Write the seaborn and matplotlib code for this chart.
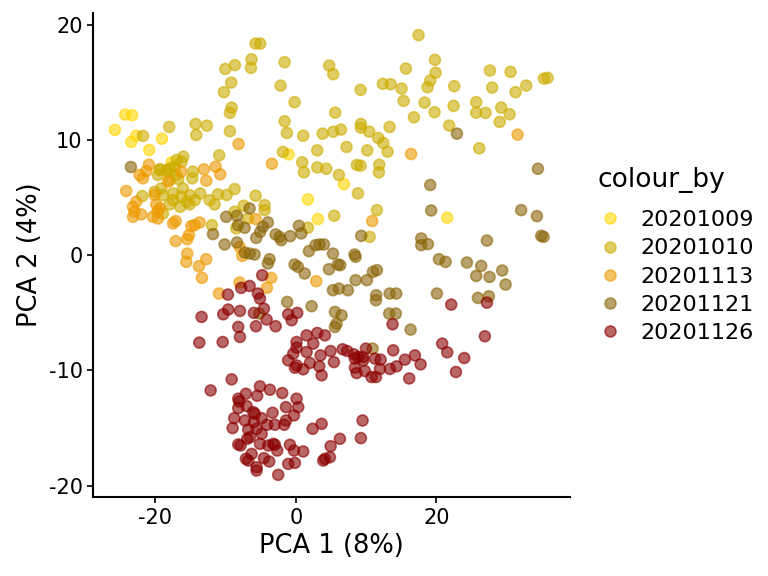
import matplotlib
matplotlib.use("Agg")

import numpy as np
import pandas as pd
import seaborn as sns
import matplotlib.pyplot as plt

# PCA scores, one pair of lists per sampling date
x_1009 = [-24.3, -23.3, -25.77, -22.73, -23.44, -19.07, -20.88, -1.04, 6.83, 1.71, 3.13, 21.54, -17.69]
y_1009 = [12.2, 12.15, 10.87, 10.37, 9.83, 10.11, 9.13, 8.75, 6.17, 4.84, 3.13, 3.25, 8.06]

x_1010 = [-5.74, -5.08, -6.33, -6.4, -1.61, 4.74, 5.31, 15.66, -2.18, 9.21, 12.38, 13.48, 15.04, 15.33,
          -0.19, 5.59, -1.61, 16.8, -1.28, 1.04, 3.8, 5.31, 6.41, 9.25, 9.25, 10.43, 11.72, 12.43, 13.34,
          13.05, 10.15, 7.21, 3.04, -1.85, 0.9, 3.04, 4.32, 8.68, 9.21, 11.86,
          17.46, 19.79, 19.88, 19.12, 18.74, 27.62, 30.56, 22.54, 27.94, 32.79, 31.27, 35.3, 35.83, 18.32,
          19.74, 22.45, 25.67, 25.67, 27.0, 29.22, 30.42, 29.0, 21.82, 26.1,
          -10.06, -8.68, -9.21, -10.25, -9.15, -9.4, -9.4, -21.78, -18.04, -14.28, -12.67, -14.19, -10.92,
          -19.4, -19.64, -18.22, -17.98, -17.04, -14.66, -14.76, -21.88, -20.11, -19.17, -18.93, -17.5,
          -16.09, -16.33, -15.13, -13.62, -12.29, -11.1, -11.57, -8.73, -7.44, -17.98, -16.47, -15.13,
          -18.93, -11.96, -8.73, -6.83, -8.5,
          1.14, 6.12, 11.81, 8.83, -5.74, -4.46, -4.46, 11.53, 5.45, 1.71, 10.49,
          -16.04, -16.27, -16.98, -17.22, -19.36, -18.4, -17.94, -16.75, -9.86, -17.46, -15.56, -14.38]
y_1010 = [18.37, 18.37, 17.0, 16.26, 16.75, 16.46, 15.71, 16.2, 14.72, 14.35, 14.87, 14.84, 14.46, 13.39,
          13.28, 12.37, 11.62, 11.97, 10.61, 10.37, 10.55, 10.72, 10.9, 11.39, 11.07, 10.72, 10.17, 9.74, 11.13,
          8.98, 9.1, 9.39, 9.1, 8.96, 8.06, 7.62, 7.5, 7.83, 7.77, 7.85,
          19.1, 16.96, 15.83, 15.16, 14.58, 16.03, 15.91, 14.67, 14.55, 14.72, 14.15, 15.33, 15.39, 13.24,
          12.41, 12.96, 13.28, 12.37, 12.35, 12.81, 12.23, 11.57, 11.25, 9.27,
          16.17, 16.5, 14.98, 14.15, 12.81, 12.35, 10.76, 10.35, 11.13, 11.39, 11.24, 10.43, 8.67,
          7.39, 6.96, 7.25, 6.52, 6.96, 7.25, 6.67, 5.13, 5.5, 5.8, 5.22, 5.36,
          5.8, 5.07, 5.22, 5.36, 4.78, 5.28, 4.41, 5.74, 4.29, 4.41, 4.2, 4.41,
          3.62, 2.61, 3.77, 3.19, 2.32,
          7.19, 6.96, 7.19, 5.36, 5.16, 4.35, 3.91, 3.91, 3.42, 2.38, 1.59,
          8.55, 8.11, 8.26, 7.68, 7.48, 7.39, 7.54, 6.61, 5.22, 4.78, 4.64, 4.78]

x_1113 = [-8.16, -20.93, -3.42, 16.4, 31.56,
          -22.25, -21.78, -21.3, -16.33, -13.1, -12.77, -11.43, -10.78, -24.16, -20.11, -22.73, -23.2,
          -22.96, -23.2, -22.02, -19.88, -19.4, -20.36, -19.64, -17.12, -17.5, -14.9, -13.71, -14.42,
          -15.23, -15.47, -17.12, -15.47, -15.61, -12.77, -13.81, -13.38, -8.02, -7.64, -8.02, -10.96,
          10.86, -5.74, 2.89, -3.52, -4.13, -18.18, -19.7]
y_1113 = [9.65, 7.85, 7.94, 8.78, 10.46,
          6.96, 6.67, 7.3, 7.25, 7.45, 6.46, 7.68, 7.02, 5.57, 5.22, 4.64, 4.2,
          3.77, 3.33, 3.54, 4.41, 4.06, 3.33, 3.19, 2.96, 2.76, 2.52, 2.84, 2.61,
          1.74, 1.39, 1.22, 0.14, -0.58, -0.35, -0.96, -1.97, 0.72, -0.06, -2.38, -3.33,
          2.96, 3.13, -2.26, -1.97, -2.84, 6.38, 3.8]

x_1121 = [-23.49, 22.92, 34.45,
          -11.81, -6.59, -9.92, -8.4, -8.26, -7.3, -10.15, -8.4, -7.3, -6.59,
          9.3, -3.99, -4.7, -5.08, -5.65, -2.89, -2.32, -2.09, -0.81, 0.43, 0.76, 2.8, 3.37, 3.99, 1.85,
          5.27, 8.35, 8.5, -5.88, -3.75, -3.99, -0.19, 0.28, 1.24, 4.7, 5.98, 6.31, 8.5, 10.11, 10.96,
          11.53, 5.27, 6.12, 7.4, 11.43, 13.34, 14.28,
          19.12, 19.26, 32.07, 34.31, 34.92, 35.26, 17.84, 17.84, 18.79, 27.19, 20.36, 21.31, 24.34,
          26.38, 25.67, 27.57, 29.37, 29.85, 20.07, 25.91, 27.47,
          -5.22, -1.24, 2.23, 5.55, 5.79, 5.55, 11.39, 6.5, 13.28, 14.23, 16.33, 10.91]
y_1121 = [7.65, 10.55, 7.5,
          1.83, 4.06, 3.33, 3.42, 2.61, 2.38, 0.93, 1.1, 0.23, 0.14,
          1.68, 2.84, 2.46, 2.03, 1.5, 1.8, 1.59, 1.3, 1.65, 2.55, 1.89, 0.87, 0.93, 0.93, 0.35,
          0.14, 0.06, -0.14, 0.06, -0.35, -0.72, -0.81, -1.01, -1.59, -1.22, -0.81, -0.87, -2.17, -2.17, -1.45,
          -1.3, -3.04, -2.9, -3.04, -3.48, -3.33, -3.33,
          6.09, 3.88, 3.91, 3.39, 1.68, 1.59, 1.45, 0.87, 0.96, 1.27, -0.35, -0.58, -0.64,
          -0.93, -1.8, -1.89, -1.33, -2.55, -3.33, -3.71, -3.57,
          -5.07, -4.06, -4.43, -4.93, -5.94, -6.23, -3.91, -5.22, -5.07, -5.07, -6.46, -8.11]

x_1126 = [-7.79, -6.59, -9.68, -4.8, -5.41, 22.11, 27.19,
          -5.12, -13.43, -10.35, -9.64, -7.97, -5.98, -4.56, -4.17, -2.89, -5.69, -8.21, -7.97, -1.1, 0.19,
          -0.61, -13.76, -10.43, 1.52, 3.04, 4.13, 2.47, 0.09, 0.09, -0.38, 1.52, 3.51, 4.94, -1.1, 0.09,
          -0.14, 1.04, 1.99, 3.32, 3.66, 5.41, -9.15, -12.14, -5.12, -3.7, -1.95, -7.12, -5.51, -8.21, 0.09,
          13.76, 26.9, 6.65, 7.3, 8.26, 8.87, 9.58, 9.96, 9.58, 8.4, 11.25, 12.06, 8.4, 8.64, 9.82, 10.77,
          11.39, 11.96, 13.38, 14.33, 15.52, 16.94, 17.75, 13.85, 16.13, 20.83, 21.54, 23.96, 22.78,
          -8.07, 0.33, -8.21, -7.02, -6.08, -5.84, -3.32, -1.42, -0.28, -8.78, -7.26, -4.88, -5.98, -4.09,
          -2.99, -1.67, -1.42, -9.01, -6.79, -5.6, -4.88, -6.55, -6.93, 2.38, 3.66, 6.26, 9.49, 9.25, -8.21,
          -7.87, -5.12, -3.94, -3.23, -2.99, -2.66, -0.85, -0.28, 1.04, 4.94, -6.31, -7.12, -6.79, -4.56,
          -3.8, -5.6, -5.6, -2.52, -1.1, -0.14, 3.89, 4.13, 4.84]
y_1126 = [-2.84, -2.67, -3.42, -1.74, -3.33, -4.29, -4.12,
          -3.77, -5.36, -5.13, -4.72, -4.84, -5.01, -4.64, -5.59, -6.17, -6.17, -6.23, -7.1, -5.13, -5.01,
          -5.65, -7.59, -7.54, -6.96, -6.75, -6.96, -7.68, -7.54, -8.03, -8.55, -8.41, -8.7, -8.32, -9.13, -9.57,
          -9.77, -9.91, -9.36, -9.65, -10.43, -9.28, -10.78, -11.74, -11.39, -11.68, -11.97, -12.03, -12.2, -12.46, -12.46,
          -6.0, -7.04, -8.17, -8.32, -8.61, -8.84, -8.84, -8.11, -9.13, -8.98, -8.98, -9.07, -9.77, -10.23, -10.06, -10.58,
          -10.58, -9.88, -9.88, -9.65, -9.07, -8.7, -9.48, -8.26, -10.7, -7.68, -8.43, -8.93, -10.14,
          -12.7, -13.19, -13.28, -13.1, -13.62, -13.77, -13.68, -13.19, -13.91, -14.15, -14.35, -14.15, -14.49, -14.72,
          -14.72, -14.72, -14.35, -15.01, -15.13, -15.07, -15.51, -15.8, -15.94, -15.07, -14.64, -15.94, -14.35, -15.88, -16.43,
          -16.52, -16.38, -16.52, -16.38, -16.46, -16.96, -16.46, -16.96, -17.04, -16.58, -17.25, -17.68, -17.83, -17.62,
          -17.91, -18.41, -18.7, -19.07, -18.12, -18.03, -17.83, -17.68, -17.54]

dates = ["20201009", "20201010", "20201113", "20201121", "20201126"]
colours = ["#FFD700", "#CDAD00", "#EE9A00", "#8B6508", "#8B0000"]

xs = [x_1009, x_1010, x_1113, x_1121, x_1126]
ys = [y_1009, y_1010, y_1113, y_1121, y_1126]
frames = [pd.DataFrame({"PC1": x, "PC2": y, "colour_by": d}) for x, y, d in zip(xs, ys, dates)]
df = pd.concat(frames, ignore_index=True)

sns.set_style("ticks")
plt.rcParams["font.family"] = ["DejaVu Sans"]
plt.rcParams["axes.unicode_minus"] = False  # plain hyphen, as in the reference
plt.rcParams["text.color"] = "black"

fig = plt.figure(figsize=(7.68, 5.76), dpi=100)
ax = fig.add_axes([0.121, 0.137, 0.621, 0.840])

sns.scatterplot(data=df, x="PC1", y="PC2", hue="colour_by", hue_order=dates,
                palette=dict(zip(dates, colours)), s=62, alpha=0.6,
                edgecolor="face", linewidth=1.2, ax=ax)

ax.set_xlim(-28.9, 39.0)
ax.set_ylim(-21.0, 21.0)
ax.set_xticks([-20, 0, 20])
ax.set_yticks([-20, -10, 0, 10, 20])
ax.set_xlabel("PCA 1 (8%)", fontsize=18.5, color="black", labelpad=4)
ax.set_ylabel("PCA 2 (4%)", fontsize=18.5, color="black", labelpad=4)
ax.tick_params(labelsize=15, colors="black", width=1.2, length=4)
sns.despine(ax=ax)
for side in ["left", "bottom"]:
    ax.spines[side].set_linewidth(1.5)
    ax.spines[side].set_color("black")

sns.move_legend(ax, "center left", bbox_to_anchor=(1.015, 0.5), frameon=False,
                title="colour_by", fontsize=16, title_fontsize=19,
                handlelength=1.2, handletextpad=0.75, labelspacing=0.37, markerscale=1.0)
leg = ax.get_legend()
leg._legend_box.align = "left"
leg._legend_box.sep = 12
for txt in leg.get_texts():
    txt.set_color("black")
leg.get_title().set_color("black")

fig.savefig("out.png", dpi=100)
